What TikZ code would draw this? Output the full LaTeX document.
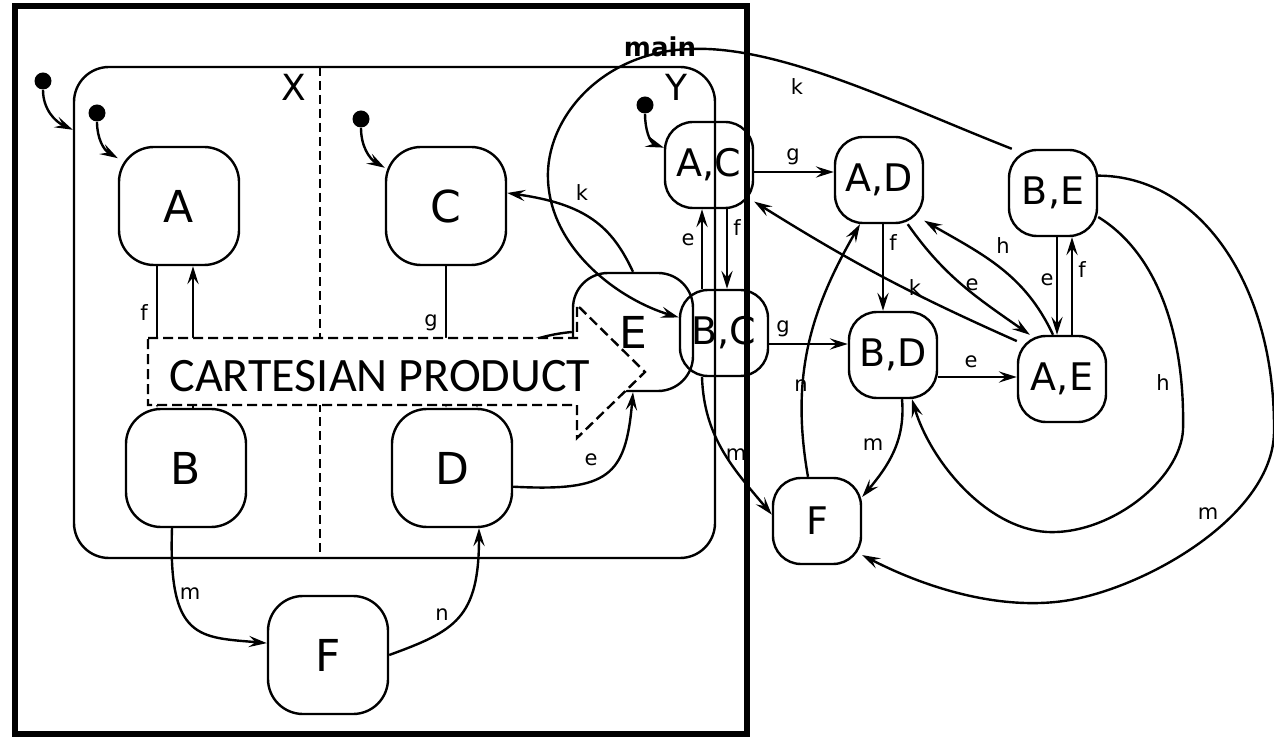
\documentclass[tikz,border=0pt]{standalone}
\usepackage{fontspec}
\setmainfont{DejaVu Sans}
\newfontfamily\cartfont{Carlito}
\usetikzlibrary{arrows.meta, calc}

\begin{document}
\begin{tikzpicture}[x=0.5pt, y=0.5pt,
  >={Stealth[length=9pt, width=5.6pt, inset=3.4pt]},
  state/.style={draw, line width=1.2pt, rounded corners=17.5pt, inner sep=0pt,
    minimum width=60pt, minimum height=59pt, font=\fontsize{22}{22}\selectfont},
  pstate/.style={draw, line width=1.2pt, rounded corners=14pt, inner sep=0pt,
    minimum width=44pt, minimum height=43pt, font=\fontsize{19}{19}\selectfont},
  trans/.style={->, line width=1.2pt},
  initdot/.style={circle, fill, inner sep=0pt, minimum size=8.5pt},
  regname/.style={inner sep=0pt, font=\fontsize{18}{18}\selectfont},
  lbl/.style={inner sep=0pt, font=\fontsize{10.5}{10.5}\selectfont},
  divider/.style={line width=1.2pt, dash pattern=on 4.5pt off 2.5pt},
  cartbox/.style={fill=white, line width=1.2pt, dash pattern=on 5pt off 2.5pt}]

\useasboundingbox (0,0) rectangle (1274,-737);

%-- left chart: container with two regions
\node[draw, line width=1.2pt, rounded corners=17.5pt, minimum width=320.5pt,
  minimum height=245.5pt] (mainbox) at (394.5,-312.5) {};
\draw[divider] (320,-67) -- (320,-558);
\node[regname] (Xname) at (294,-87) {X};
\node[regname] (Yname) at (676,-87) {Y};
\node[font=\bfseries\fontsize{13}{13}\selectfont, inner sep=0pt] (mainname)
  at (660,-47) {main};

\node[state] (A) at (179,-206) {A};
\node[state] (B) at (186,-468) {B};
\node[state] (C) at (446,-206) {C};
\node[state] (D) at (452,-468) {D};
\node[state] (E) at (633,-332) {E};
\node[state] (F) at (328,-655) {F};

%-- initial states
\coordinate (mainin) at ($(mainbox.north west)+(0,-64)$);
\node[initdot] (i0) at (43,-81)  {};
\node[initdot] (i1) at (97,-113) {};
\node[initdot] (i2) at (361,-119) {};
\draw[trans] (i0) to[out=-90, in=155] (mainin);
\draw[trans] (i1) to[out=-90, in=150] (A.142);
\draw[trans] (i2) to[out=-90, in=150] (C.148);

%-- left transitions
\draw[trans] ([xshift=-11pt]A.south) -- ([xshift=-11pt]A.south |- B.north);
\draw[trans] ([xshift=7pt]A.south |- B.north) -- ([xshift=7pt]A.south);
\draw[trans] (C.south) -- (C.south |- D.north);
\draw[trans] (E.west) to[out=185, in=90] ([xshift=15.5pt]C.south |- D.north);
\draw[trans] (D.-17) to[out=-3, in=-95, out distance=48pt, in distance=42pt] (E.south);
\draw[trans] (E.north) to[out=115, in=-8, out distance=25pt, in distance=40pt] (C.12);
\draw[trans] ([xshift=-7pt]B.south)
  to[out=-92, in=175, out distance=56pt, in distance=34pt] (F.169);
\draw[trans] (F.east)
  to[out=20, in=-90, out distance=35pt, in distance=45pt] ([xshift=13.5pt]D.south);

%-- product chart
\node[pstate] (AC) at (709,-165)  {A,C};
\node[pstate] (BC) at (724,-333)  {B,C};
\node[pstate] (AD) at (879,-180)  {A,D};
\node[pstate] (BE) at (1053,-193) {B,E};
\node[pstate] (BD) at (893,-355)  {B,D};
\node[pstate] (AE) at (1062,-379) {A,E};
\node[pstate] (FF) at (817,-521)  {F};

\node[initdot] (i3) at (645,-105) {};
\draw[trans] (i3) to[out=-90, in=160] (AC.159);

\draw[trans] ([yshift=-3.5pt]AC.east) -- ([yshift=-3.5pt]AC.east -| AD.west);
\draw[trans] ([xshift=9pt]AC.south) -- ([xshift=9pt]AC.south |- BC.north);
\draw[trans] ([xshift=-3.5pt]AC.south |- BC.north) -- ([xshift=-3.5pt]AC.south);
\draw[trans] ([yshift=-5.5pt]BC.east) -- ([yshift=-5.5pt]BC.east -| BD.west);
\draw[trans] ([xshift=2pt]AD.south) -- ([xshift=2pt]AD.south |- BD.north);
\draw[trans] ([yshift=-11pt]BD.east) -- ([yshift=-11pt]BD.east -| AE.west);
\draw[trans] ([xshift=5pt]AE.north) -- ([xshift=5pt]AE.north |- BE.south);
\draw[trans] ([xshift=-2.5pt]AE.north |- BE.south) -- ([xshift=-2.5pt]AE.north);
\draw[trans] (AD.-57) to[out=-55, in=145] (AE.126);
\draw[trans] ([xshift=-4.5pt]AE.north) to[out=115, in=-30] (AD.-42);
\draw[trans] (AE.140) to[bend left=4] (AC.-39);
\draw[trans] ([xshift=4.5pt]BD.south) to[out=-85, in=50] (FF.28);
\draw[trans] ([xshift=-4.5pt]FF.north) to[out=100, in=-120] ([xshift=-9.5pt]AD.south);
\draw[trans] ([xshift=-11pt]BC.south) to[out=-88, in=130] (FF.172);

%-- long loops round the product states
\draw[trans] (BE.-28) .. controls (1160,-255) and (1185,-340) .. (1183,-430)
  .. controls (1180,-480) and (1110,-535) .. (1047,-532)
  .. controls (985,-528) and (930,-460) .. ([xshift=9.5pt]BD.south);
\draw[trans] (BE.21) .. controls (1200,-176) and (1275,-285) .. (1274,-430)
  .. controls (1275,-510) and (1160,-580) .. (1080,-598)
  .. controls (1010,-614) and (930,-590) .. (FF.-37);
\draw[trans] (BE.133) .. controls (900,-105) and (780,-45) .. (690,-49)
  .. controls (600,-52) and (545,-120) .. (548,-180)
  .. controls (551,-250) and (620,-300) .. (BC.161);

%-- transition labels
\foreach \x/\y/\t [count=\i] in {144/313/f, 431/323/g, 591/460/e, 190/594/m,
    442/615/n, 582/193/k, 797/87/k, 793/157/g, 737/228/f, 688/240/e,
    783/329/g, 893/243/f, 971/362/e, 972/285/e, 1003/246/h, 915/288/k,
    1082/270/f, 1047/280/e, 873/445/m, 801/386/n, 736/455/m, 1163/383/h,
    1208/514/m}
  \node[lbl] (lab\i) at (\x,-\y) {\t};

%-- dashed product arrow
\draw[cartbox] (148,-338) -- (577,-338) -- (577,-305) -- (645,-372)
  -- (577,-438) -- (577,-405) -- (148,-405) -- cycle;
\node[inner sep=0pt, font=\cartfont\fontsize{24}{24}\selectfont] (cart)
  at (380,-376) {CARTESIAN PRODUCT};

%-- thick frame
\draw[line width=2.8pt] (15,-6) rectangle (747,-734);

\end{tikzpicture}
\end{document}
